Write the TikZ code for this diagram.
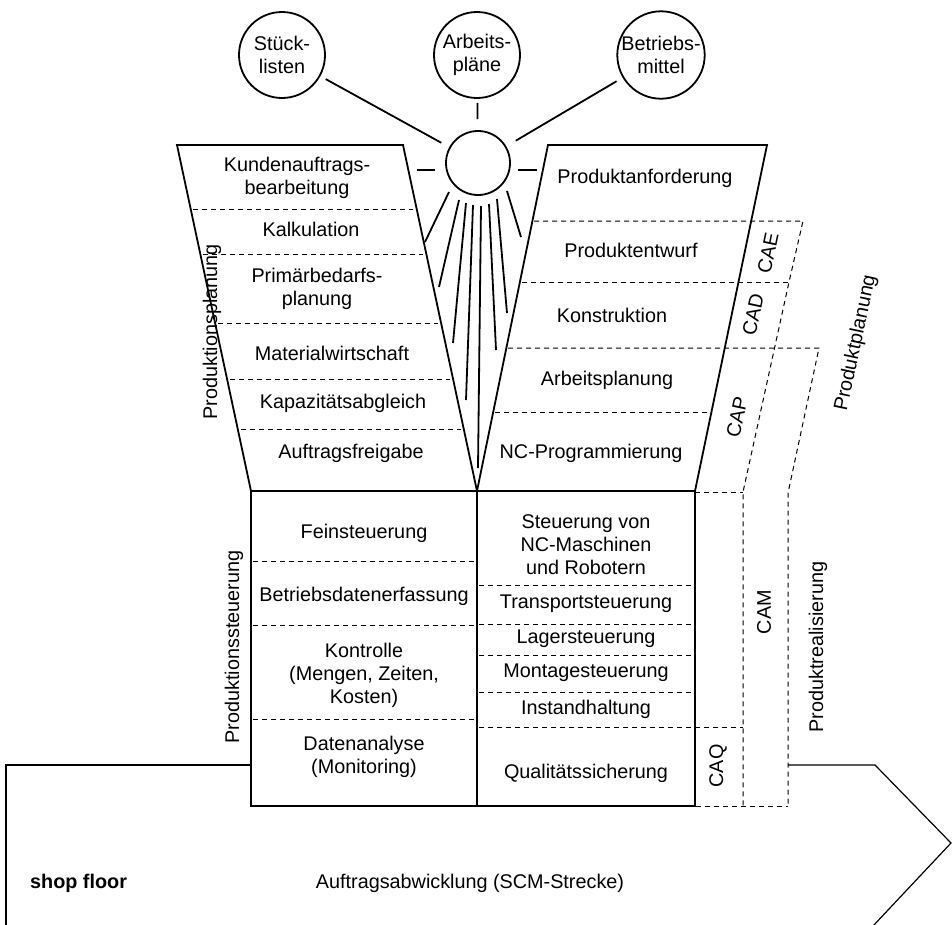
\documentclass[tikz,border=0pt]{standalone}
\usepackage{fontspec}
\setmainfont{Liberation Sans}
\begin{document}
\begin{tikzpicture}[x=1bp,y=-1bp,
  lbl/.style={font=\fontsize{19.8bp}{23bp}\selectfont, align=center, inner sep=0pt},
  heavy/.style={line width=1.8bp, line join=miter},
  dline/.style={line width=1bp, dash pattern=on 5bp off 4bp},
  src/.style={circle, draw, line width=1.8bp, minimum size=86bp, inner sep=0pt, align=center, font=\fontsize{19.8bp}{23bp}\selectfont},
  ray/.style={line width=1.8bp},
  flow/.style={line width=1.2bp}
]
\useasboundingbox (0,0) rectangle (952,925);

% source circles and sun
\node[src] (stueck) at (282,55) {Stück-\\listen};
\node[src] (arbeit) at (477,55) {Arbeits-\\pläne};
\node[src] (betrieb) at (661,55) {Betriebs-\\mittel};
\node[circle, draw, line width=1.8bp, minimum size=64bp, inner sep=0pt] (sun) at (478,163) {};

\draw[ray, shorten <=6bp, shorten >=9bp] (stueck) -- (sun);
\draw[ray, shorten <=4bp, shorten >=11bp] (arbeit) -- (sun);
\draw[ray, shorten <=7bp, shorten >=11bp] (betrieb) -- (sun);

% short side strokes
\draw[ray] (417,170) -- (435,170);
\draw[ray] (518,170) -- (537,170);

% rays
\draw[ray] (449,192) -- (425,242);
\draw[ray] (459,200) -- (439,287);
\draw[ray] (466,203) -- (453,343);
\draw[ray] (473,205) -- (466,400);
\draw[ray] (481,206) -- (478,468);
\draw[ray] (489,204) -- (496,350);
\draw[ray] (497,199) -- (507,313);
\draw[ray] (507,191) -- (521,237);

% funnels
\draw[heavy] (177,145) -- (403,145) -- (477,491) -- (251,491) -- cycle;
\draw[heavy] (548,145) -- (767,145) -- (695,491) -- (477,491) -- cycle;

% left funnel dividers
\draw[dline] (193,209) -- (413,209);
\draw[dline] (203,254) -- (423,254);
\draw[dline] (218,323) -- (438,323);
\draw[dline] (230,379) -- (450,379);
\draw[dline] (241,429) -- (461,429);

% right funnel dividers and brackets
\draw[dline] (534,221) -- (803,221) -- (789,282) -- (743,492) -- (743,806);
\draw[dline] (522,282) -- (789,282);
\draw[dline] (508,348) -- (819,348) -- (788,493) -- (788,806);
\draw[dline] (495,412) -- (709,412);
\draw[dline] (695,492) -- (743,492);

% lower boxes
\draw[heavy] (251,491) rectangle (695,806);
\draw[heavy] (477,491) -- (477,806);
\draw[dline] (253,561) -- (475,561);
\draw[dline] (253,625) -- (475,625);
\draw[dline] (253,719) -- (475,719);
\draw[dline] (479,585) -- (693,585);
\draw[dline] (479,624) -- (693,624);
\draw[dline] (479,655) -- (693,655);
\draw[dline] (479,692) -- (693,692);
\draw[dline] (479,727) -- (743,727);
\draw[dline] (696,806) -- (788,806);

% big process arrow
\draw[flow] (251,765) -- (6,765) -- (6,926);
\draw[flow] (788,765) -- (875,765) -- (951,843) -- (873,926);

% left funnel texts
\node[lbl] (kund) at (297,178) {Kundenauftrags-\\bearbeitung};
\node[lbl] (kalk) at (311,229) {Kalkulation};
\node[lbl] (prim) at (317,289) {Primärbedarfs-\\planung};
\node[lbl] (mat) at (332,353) {Materialwirtschaft};
\node[lbl] (kap) at (343,403) {Kapazitätsabgleich};
\node[lbl] (afg) at (351,453) {Auftragsfreigabe};

% right funnel texts
\node[lbl] (panf) at (645,178) {Produktanforderung};
\node[lbl] (pent) at (631,250) {Produktentwurf};
\node[lbl] (kons) at (612,315) {Konstruktion};
\node[lbl] (apl) at (607,380) {Arbeitsplanung};
\node[lbl] (ncp) at (591,453) {NC-Programmierung};

% lower left texts
\node[lbl] (fein) at (364,533) {Feinsteuerung};
\node[lbl] (bde) at (364,596) {Betriebsdatenerfassung};
\node[lbl] (kontr) at (364,675) {Kontrolle\\(Mengen, Zeiten,\\Kosten)};
\node[lbl] (dana) at (364,757) {Datenanalyse\\(Monitoring)};

% lower right texts
\node[lbl] (stnc) at (586,545) {Steuerung von\\NC-Maschinen\\und Robotern};
\node[lbl] (trans) at (586,604) {Transportsteuerung};
\node[lbl] (lager) at (586,639) {Lagersteuerung};
\node[lbl] (mont) at (586,673) {Montagesteuerung};
\node[lbl] (inst) at (586,709) {Instandhaltung};
\node[lbl] (qual) at (586,773) {Qualitätssicherung};

% side labels
\node[lbl, rotate=90] (pplan) at (212,332) {Produktionsplanung};
\node[lbl, rotate=90] (psteu) at (234,647) {Produktionssteuerung};
\node[lbl, rotate=78] (cae) at (768,253) {CAE};
\node[lbl, rotate=78] (cad) at (753,315) {CAD};
\node[lbl, rotate=78] (cap) at (737,417) {CAP};
\node[lbl, rotate=90] (cam) at (764,612) {CAM};
\node[lbl, rotate=90] (caq) at (718,766) {CAQ};
\node[lbl, rotate=78] (prodpl) at (856,343) {Produktplanung};
\node[lbl, rotate=90] (prodreal) at (818,647) {Produktrealisierung};

% bottom texts
\node[lbl, anchor=west, font=\fontsize{19.8bp}{23bp}\selectfont\bfseries] (shop) at (30,883) {shop floor};
\node[lbl] (auftr) at (470,883) {Auftragsabwicklung (SCM-Strecke)};
\end{tikzpicture}
\end{document}
